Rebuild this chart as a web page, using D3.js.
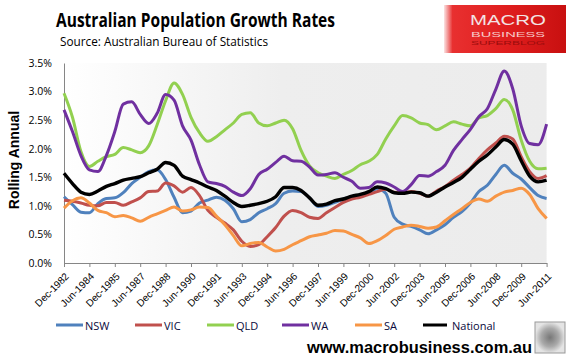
<!DOCTYPE html>
<html>
<head>
<meta charset="utf-8">
<script src="https://cdn.jsdelivr.net/npm/d3@7"></script>
<style>
  body { margin: 0; background: #fff; }
  svg { display: block; font-family: "Open Sans", "DejaVu Sans", sans-serif; }
</style>
</head>
<body>
<svg id="chart" width="572" height="361"></svg>
<script>
// half-yearly readings, Dec-1982 .. Jun-2011 (58 points)
var tickLabels = ["Dec-1982","Jun-1984","Dec-1985","Jun-1987","Dec-1988","Jun-1990","Dec-1991",
  "Jun-1993","Dec-1994","Jun-1996","Dec-1997","Jun-1999","Dec-2000","Jun-2002","Dec-2003",
  "Jun-2005","Dec-2006","Jun-2008","Dec-2009","Jun-2011"];

var nsw = [1.16,1.02,0.89,0.88,1.04,1.13,1.14,1.23,1.39,1.50,1.60,1.63,1.46,1.15,0.88,0.91,1.05,1.10,1.15,1.10,
  0.95,0.72,0.76,0.88,0.95,1.04,1.22,1.26,1.25,1.14,0.99,1.01,1.06,1.12,1.16,1.19,1.23,1.30,1.22,0.80,
  0.68,0.64,0.58,0.51,0.58,0.67,0.80,0.90,1.05,1.25,1.36,1.55,1.71,1.57,1.47,1.32,1.18,1.13];
var vic = [1.10,1.08,1.05,1.01,1.00,1.06,1.06,1.01,1.07,1.14,1.25,1.26,1.40,1.35,1.24,1.32,1.18,0.92,0.80,0.70,
  0.58,0.38,0.29,0.32,0.46,0.62,0.82,0.92,0.88,0.80,0.78,0.88,0.97,1.06,1.12,1.15,1.20,1.25,1.29,1.24,
  1.23,1.25,1.22,1.17,1.26,1.34,1.45,1.55,1.66,1.83,1.98,2.10,2.22,2.17,1.86,1.60,1.48,1.53];
var qld = [2.97,2.55,1.95,1.69,1.78,1.86,1.90,2.02,1.98,1.93,2.05,2.42,2.84,3.15,2.95,2.55,2.28,2.13,2.21,2.33,
  2.45,2.60,2.63,2.45,2.40,2.45,2.50,2.35,1.97,1.70,1.58,1.52,1.48,1.55,1.62,1.72,1.78,1.90,2.17,2.40,
  2.58,2.54,2.45,2.42,2.33,2.40,2.47,2.43,2.40,2.54,2.58,2.70,2.86,2.68,2.15,1.78,1.65,1.66];
var wa = [2.68,2.30,1.88,1.63,1.60,1.88,2.30,2.78,2.82,2.60,2.44,2.62,2.95,2.85,2.40,2.15,1.72,1.42,1.39,1.34,
  1.24,1.18,1.30,1.55,1.64,1.76,1.87,1.79,1.78,1.68,1.54,1.55,1.58,1.50,1.43,1.31,1.32,1.42,1.40,1.33,
  1.25,1.37,1.53,1.52,1.60,1.71,1.97,2.16,2.34,2.56,2.70,3.04,3.36,3.05,2.40,2.09,2.07,2.43];
var sa = [0.96,1.09,1.14,1.05,0.92,0.88,0.81,0.83,0.79,0.73,0.80,0.86,0.92,0.98,0.91,0.93,0.98,0.97,0.82,0.67,
  0.48,0.30,0.34,0.36,0.28,0.21,0.24,0.32,0.39,0.46,0.49,0.52,0.57,0.56,0.50,0.44,0.34,0.39,0.48,0.59,
  0.63,0.66,0.64,0.61,0.63,0.74,0.85,0.95,1.06,1.12,1.08,1.17,1.24,1.27,1.31,1.20,0.95,0.78];
var national = [1.57,1.39,1.24,1.20,1.26,1.34,1.39,1.45,1.48,1.51,1.58,1.64,1.76,1.71,1.52,1.46,1.40,1.33,1.27,1.17,
  1.06,0.99,1.01,1.04,1.08,1.16,1.32,1.32,1.27,1.14,1.01,1.03,1.09,1.12,1.17,1.20,1.25,1.33,1.30,1.23,
  1.22,1.24,1.23,1.17,1.24,1.33,1.41,1.50,1.64,1.78,1.89,2.03,2.16,2.08,1.79,1.52,1.42,1.45];

var seriesNames = ["NSW","VIC","QLD","WA","SA","National"];
var seriesData = [nsw, vic, qld, wa, sa, national];
var colors = ["#4f81bd","#c0504d","#92d050","#7030a0","#f79646","#000000"];

var svg = d3.select("svg#chart");
var defs = svg.append("defs");

var bg = defs.append("linearGradient").attr("id", "plotbg").attr("x1", "0").attr("x2", "1").attr("y1", "0").attr("y2", "0");
bg.append("stop").attr("offset", "0").attr("stop-color", "#ffffff");
bg.append("stop").attr("offset", "0.45").attr("stop-color", "#eeeeee");
bg.append("stop").attr("offset", "1").attr("stop-color", "#ececec");

var margin = {left: 64, right: 25.4, top: 63, bottom: 98};
var width = 572, height = 361;

var x = d3.scaleLinear().domain([0, 57]).range([margin.left, width - margin.right]);
var y = d3.scaleLinear().domain([0, 3.5]).range([height - margin.bottom, margin.top]);

// plot area
svg.append("rect")
    .attr("x", x(0)).attr("y", y(3.5))
    .attr("width", x(57) - x(0)).attr("height", y(0) - y(3.5))
    .attr("fill", "url(#plotbg)");

// y axis
var yAxis = svg.append("g")
    .attr("transform", "translate(" + x(0) + ",0)")
    .call(d3.axisLeft(y).tickValues(d3.range(0, 3.51, 0.5)).tickSize(0).tickPadding(12)
      .tickFormat(function(d) { return d3.format(".1f")(d) + "%"; }));
yAxis.select(".domain").attr("stroke", "#868686").attr("stroke-width", 1);
yAxis.selectAll("text").attr("font-size", 10.5).attr("fill", "#000")
    .attr("font-family", "Open Sans, sans-serif");

// x axis
var xAxis = svg.append("g")
    .attr("transform", "translate(0," + y(0) + ")")
    .call(d3.axisBottom(x).tickValues(d3.range(0, 58, 3)).tickSize(4).tickSizeOuter(0)
      .tickFormat(function(d, i) { return tickLabels[i]; }));
xAxis.select(".domain").attr("stroke", "#868686").attr("stroke-width", 1);
xAxis.selectAll(".tick line").attr("stroke", "#868686");
xAxis.selectAll("text")
    .attr("font-size", 10).attr("fill", "#000")
    .attr("text-anchor", "end")
    .attr("textLength", 43).attr("lengthAdjust", "spacingAndGlyphs")
    .attr("dy", null).attr("y", 0)
    .attr("transform", "translate(5,14) rotate(-45)");

// lines
var line = d3.line()
    .x(function(d, i) { return x(i); })
    .y(function(d) { return y(d); })
    .curve(d3.curveMonotoneX);

svg.append("g").selectAll("path")
    .data(seriesData)
    .enter().append("path")
      .attr("d", line)
      .attr("fill", "none")
      .attr("stroke", function(d, i) { return colors[i]; })
      .attr("stroke-width", function(d, i) { return i == 5 ? 3.4 : 3; })
      .attr("stroke-linejoin", "round");

// titles
svg.append("text")
    .attr("x", 56).attr("y", 27)
    .attr("font-size", 19).attr("font-weight", "bold")
    .attr("textLength", 279).attr("lengthAdjust", "spacingAndGlyphs")
    .text("Australian Population Growth Rates");
svg.append("text")
    .attr("x", 60).attr("y", 46)
    .attr("font-size", 12)
    .attr("textLength", 208).attr("lengthAdjust", "spacingAndGlyphs")
    .text("Source:  Australian Bureau of Statistics");

svg.append("text")
    .attr("transform", "translate(19," + (y(1.75) - 3) + ") rotate(-90)")
    .attr("text-anchor", "middle")
    .attr("font-size", 14).attr("font-weight", "bold")
    .attr("font-family", "Liberation Sans, Arial, sans-serif")
    .text("Rolling Annual");

// legend
var legendX = [56, 135, 207, 282, 355, 423];
var legend = svg.append("g").selectAll("g")
    .data(seriesNames)
    .enter().append("g")
      .attr("transform", function(d, i) { return "translate(" + legendX[i] + ",325)"; });
legend.append("line")
    .attr("x1", 0).attr("x2", function(d, i) { return i == 5 ? 24 : 27; })
    .attr("stroke", function(d, i) { return colors[i]; })
    .attr("stroke-width", 3);
legend.append("text")
    .attr("x", 29)
    .attr("y", 4.5)
    .attr("font-size", 11)
    .attr("fill", "#0a0a3c")
    .text(function(d) { return d; });

// footer url
svg.append("text")
    .attr("x", 307).attr("y", 353)
    .attr("font-size", 17).attr("font-weight", "bold")
    .attr("font-family", "Liberation Sans, Arial, sans-serif")
    .attr("textLength", 225).attr("lengthAdjust", "spacingAndGlyphs")
    .text("www.macrobusiness.com.au");

// wolf thumbnail (simplified)
var wolf = defs.append("radialGradient").attr("id", "wolfbg");
wolf.append("stop").attr("offset", "0").attr("stop-color", "#777");
wolf.append("stop").attr("offset", "0.6").attr("stop-color", "#aaa");
wolf.append("stop").attr("offset", "1").attr("stop-color", "#e4e4e4");
svg.append("rect")
    .attr("x", 535).attr("y", 322).attr("width", 30).attr("height", 31)
    .attr("fill", "url(#wolfbg)").attr("stroke", "#999").attr("stroke-width", 1);

// logo
var red = defs.append("linearGradient").attr("id", "logored").attr("x1", "0").attr("x2", "1");
red.append("stop").attr("offset", "0").attr("stop-color", "#fbe3e3");
red.append("stop").attr("offset", "0.07").attr("stop-color", "#e83030");
red.append("stop").attr("offset", "0.5").attr("stop-color", "#e01e1e");
red.append("stop").attr("offset", "1").attr("stop-color", "#c81010");
svg.append("rect")
    .attr("x", 444).attr("y", 5).attr("width", 122).attr("height", 48)
    .attr("fill", "url(#logored)");
svg.append("text")
    .attr("x", 470).attr("y", 25)
    .attr("font-size", 15).attr("fill", "#f2e4e4")
    .attr("font-family", "Liberation Sans, Arial, sans-serif")
    .attr("textLength", 76).attr("lengthAdjust", "spacingAndGlyphs")
    .text("MACRO");
svg.append("text")
    .attr("x", 471).attr("y", 36.5)
    .attr("font-size", 7.5).attr("fill", "#f6c8c8")
    .attr("font-family", "Liberation Sans, Arial, sans-serif")
    .attr("textLength", 74).attr("lengthAdjust", "spacingAndGlyphs")
    .text("BUSINESS");
svg.append("text")
    .attr("x", 471).attr("y", 45)
    .attr("font-size", 4.5).attr("fill", "#9a0c0c")
    .attr("font-family", "Liberation Sans, Arial, sans-serif")
    .attr("textLength", 74).attr("lengthAdjust", "spacingAndGlyphs")
    .text("SUPERBLOG");
</script>
</body>
</html>
